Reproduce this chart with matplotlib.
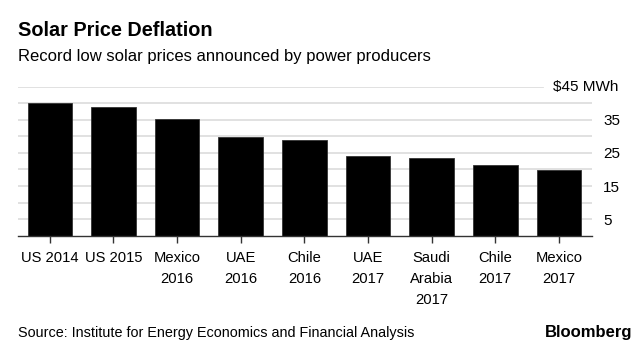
import matplotlib
matplotlib.use("Agg")
import matplotlib.pyplot as plt
import matplotlib.transforms as mtransforms

categories = ["US 2014", "US 2015", "Mexico\n2016", "UAE\n2016", "Chile\n2016",
              "UAE\n2017", "Saudi\nArabia\n2017", "Chile\n2017", "Mexico\n2017"]
values = [40.0, 38.8, 35.3, 29.9, 28.9, 24.2, 23.4, 21.5, 19.7]
grid_values = [5, 10, 15, 20, 25, 30, 35, 40]
ytick_values = [5, 15, 25, 35]
ytick_labels = ["5", "15", "25", "35"]
top_value = 45
top_label = "$45 MWh"

plt.rcParams['font.family'] = ['Liberation Sans', 'DejaVu Sans']

fig = plt.figure(figsize=(6.4, 3.5), dpi=100)
ax = fig.add_axes([18/640, (350-235.7)/350, (592-18)/640, (235.7-86.7)/350])

x = list(range(len(categories)))
for g in grid_values:
    ax.axhline(g, color='#dedede', lw=1.3, zorder=0)
ax.axhline(top_value, xmin=0, xmax=(543-18)/(592-18), color='#dedede', lw=1.3, zorder=0)

ax.bar(x, values, width=0.70, color='black', edgecolor='#333333', linewidth=0.6, zorder=2)

ax.set_xlim(-0.5, 8.52)
ax.set_ylim(0, 45)
for s in ['top', 'left', 'right']:
    ax.spines[s].set_visible(False)
ax.spines['bottom'].set_color('#333333')
ax.spines['bottom'].set_linewidth(1.0)

ax.set_xticks(x)
ax.set_xticklabels(categories, fontsize=10.6, linespacing=1.65, va='top')
ax.tick_params(axis='x', length=5, width=1, color='#333333', pad=6)

ax.yaxis.tick_right()
ax.set_yticks(ytick_values)
ax.set_yticklabels(ytick_labels, fontsize=11)
ax.tick_params(axis='y', length=0, pad=8)

trans = mtransforms.blended_transform_factory(fig.transFigure, ax.transData)
ax.text(553/640, top_value, top_label, transform=trans, fontsize=11, va='center', ha='left', clip_on=False)

fig.text(18/640, 1 - 30.7/350, "Solar Price Deflation", fontsize=14.3, fontweight='bold', va='center', ha='left')
fig.text(18/640, 1 - 56.7/350, "Record low solar prices announced by power producers", fontsize=12, va='center', ha='left')
fig.text(18/640, 1 - 333/350, "Source: Institute for Energy Economics and Financial Analysis", fontsize=10.4, va='center', ha='left')
fig.text(632/640, 1 - 333/350, "Bloomberg", fontsize=12, fontweight='bold', va='center', ha='right')

fig.savefig("out.png", dpi=100)
